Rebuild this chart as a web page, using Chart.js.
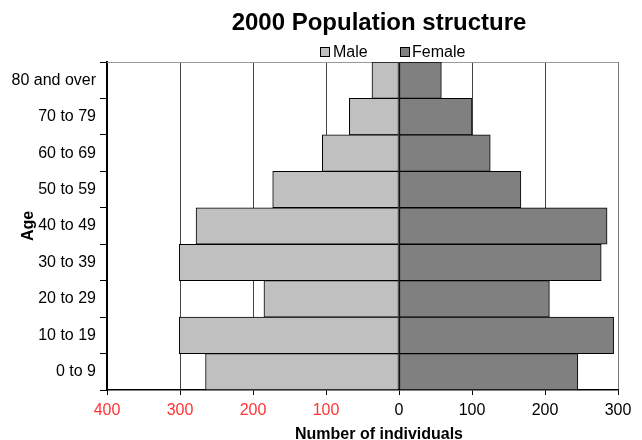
<!DOCTYPE html>
<html>
<head>
<meta charset="utf-8">
<script src="https://cdn.jsdelivr.net/npm/chart.js@4"></script>
<style>
  html, body { margin: 0; padding: 0; background: #fff; }
  #wrap { width: 642px; height: 440px; }
</style>
</head>
<body>
<div id="wrap"><canvas id="c" width="642" height="440"></canvas></div>
<script>
const ageGroups = ["80 and over", "70 to 79", "60 to 69", "50 to 59", "40 to 49", "30 to 39", "20 to 29", "10 to 19", "0 to 9"];
const maleCounts = [37, 68, 105, 173, 278, 301, 185, 301, 265];
const femaleCounts = [58, 100, 125, 167, 285, 277, 206, 294, 245];
const xTickValues = [-400, -300, -200, -100, 0, 100, 200, 300];
const chartTitle = "2000 Population structure";
const xAxisTitle = "Number of individuals";
const yAxisTitle = "Age";

const FONT = '"Liberation Sans", Arial, sans-serif';

const decor = {
  id: 'decor',
  beforeDatasetsDraw(chart) {
    const { ctx, chartArea: a } = chart;
    ctx.save();
    ctx.strokeStyle = '#999';
    ctx.lineWidth = 1;
    ctx.beginPath();
    ctx.moveTo(a.left, a.top + 0.5);
    ctx.lineTo(a.right, a.top + 0.5);
    ctx.stroke();
    ctx.restore();
  },
  afterDraw(chart) {
    const { ctx } = chart;
    ctx.save();
    ctx.fillStyle = '#000';
    ctx.textBaseline = 'alphabetic';
    // title
    ctx.font = 'bold 24px ' + FONT;
    ctx.textAlign = 'center';
    ctx.fillText(chartTitle, 379, 30);
    // legend
    ctx.font = '16px ' + FONT;
    ctx.textAlign = 'left';
    const legendPos = [[320, 333], [400, 412]];
    chart.data.datasets.forEach((ds, i) => {
      const [bx, tx] = legendPos[i];
      ctx.fillStyle = ds.backgroundColor;
      ctx.fillRect(bx, 47, 10, 10);
      ctx.strokeStyle = '#000';
      ctx.lineWidth = 1;
      ctx.strokeRect(bx + 0.5, 47.5, 9, 9);
      ctx.fillStyle = '#000';
      ctx.fillText(ds.label, tx, 57);
    });
    // x axis title
    ctx.font = 'bold 16px ' + FONT;
    ctx.textAlign = 'center';
    ctx.fillText(xAxisTitle, 379, 439);
    // y axis title
    ctx.translate(33, 226);
    ctx.rotate(-Math.PI / 2);
    ctx.fillText(yAxisTitle, 0, 0);
    ctx.restore();
  }
};

new Chart(document.getElementById('c'), {
  type: 'bar',
  data: {
    labels: ageGroups,
    datasets: [
      { label: 'Male', data: maleCounts.map(v => -v), backgroundColor: '#c0c0c0', borderColor: '#000', borderWidth: 1, borderSkipped: false },
      { label: 'Female', data: femaleCounts, backgroundColor: '#808080', borderColor: '#000', borderWidth: 1, borderSkipped: false }
    ]
  },
  options: {
    indexAxis: 'y',
    responsive: false,
    animation: false,
    devicePixelRatio: 1,
    layout: { padding: { left: 0, top: 62, right: 24, bottom: 0 } },
    datasets: { bar: { barPercentage: 1, categoryPercentage: 1 } },
    plugins: {
      legend: { display: false },
      title: { display: false },
      tooltip: { enabled: false }
    },
    scales: {
      x: {
        stacked: true,
        min: -400,
        max: 300,
        afterBuildTicks(scale) { scale.ticks = xTickValues.map(v => ({ value: v })); },
        afterFit(scale) { scale.height = 50; },
        ticks: {
          font: { size: 16, family: FONT },
          color: (c) => (c.tick && c.tick.value < 0 ? '#ff3333' : '#000'),
          padding: 6,
          maxRotation: 0,
          callback: (v) => String(Math.abs(v))
        },
        grid: {
          color: (c) => (c.tick && c.tick.value === 300 ? '#777' : '#444'),
          lineWidth: 1,
          tickLength: 5,
          tickColor: '#000'
        },
        border: { display: true, color: '#000', width: 1.5 }
      },
      y: {
        stacked: true,
        afterFit(scale) { scale.width = 107; },
        ticks: {
          font: { size: 16, family: FONT },
          color: '#000',
          padding: 4
        },
        grid: {
          offset: true,
          drawOnChartArea: false,
          drawTicks: true,
          tickLength: 7,
          tickColor: '#000'
        },
        border: { display: true, color: '#000', width: 2 }
      }
    }
  },
  plugins: [decor]
});
</script>
</body>
</html>
